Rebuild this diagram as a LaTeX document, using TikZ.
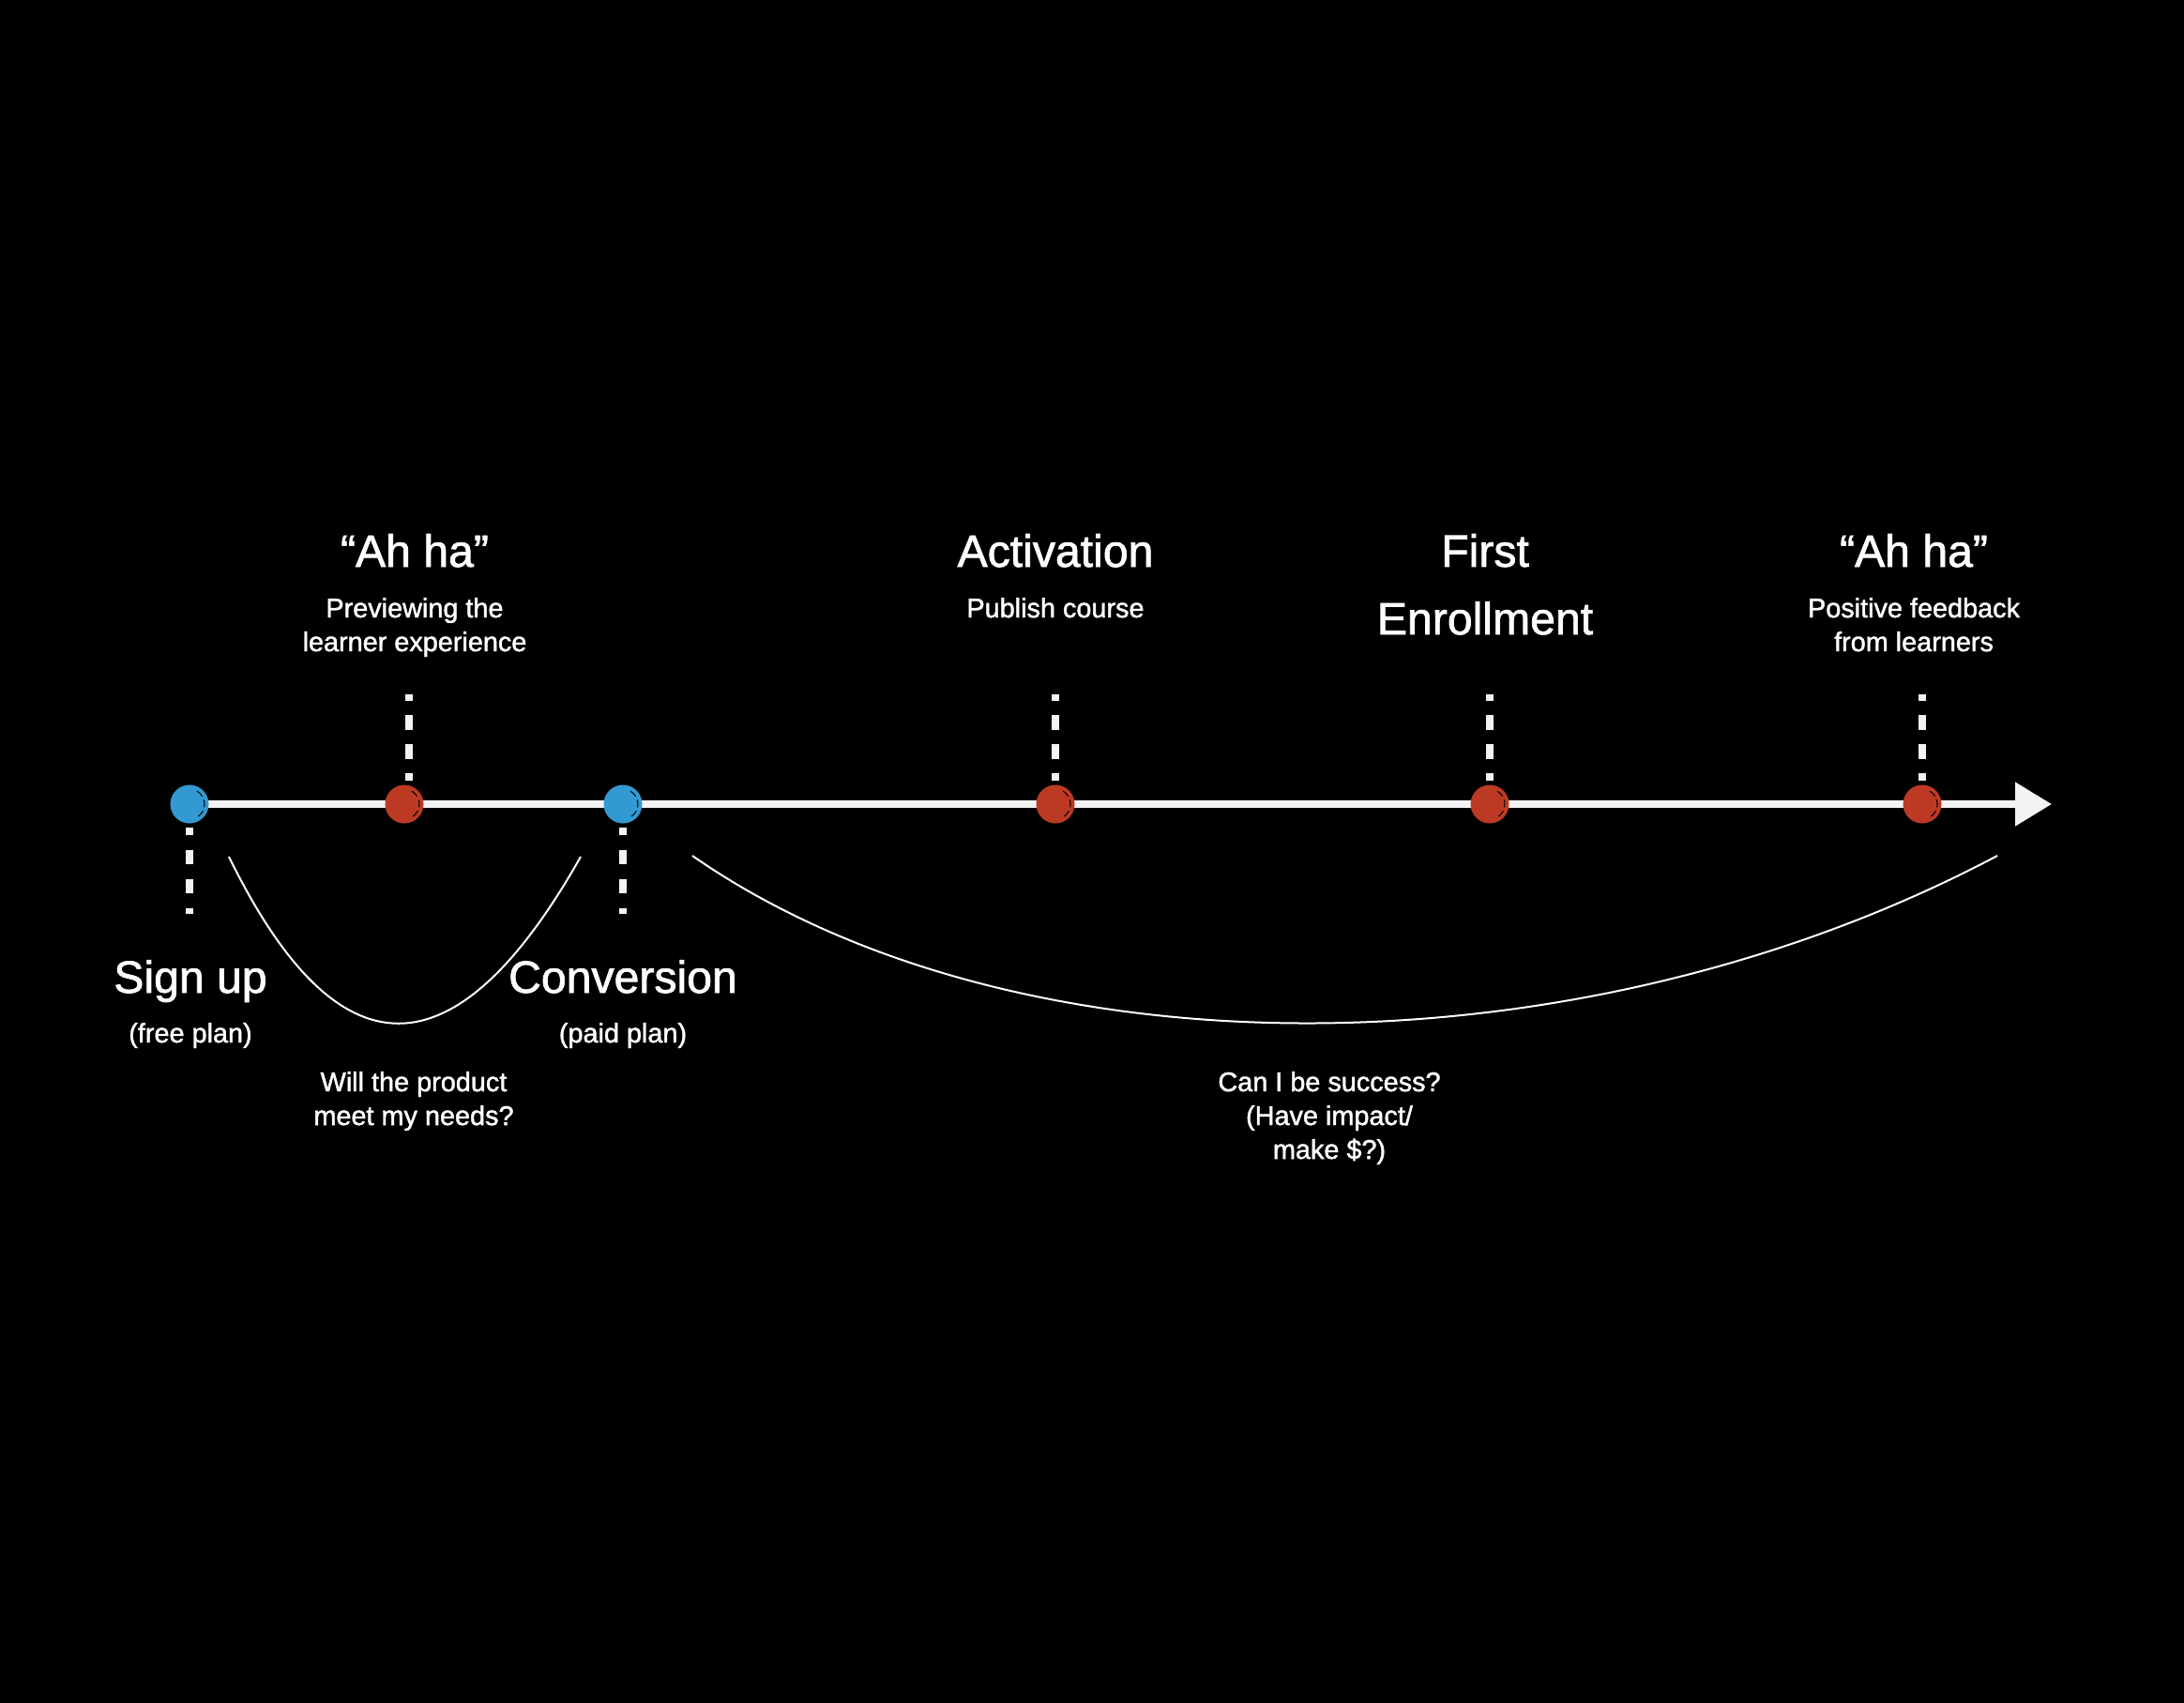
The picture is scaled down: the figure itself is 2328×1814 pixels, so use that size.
\documentclass[tikz,border=0pt]{standalone}
\usepackage{fontspec}
\setmainfont{Liberation Sans}
\newfontfamily\labelfont{Liberation Sans}[FakeBold=1.5]
\usetikzlibrary{arrows.meta,backgrounds}
\definecolor{dotblue}{HTML}{3399D2}
\definecolor{dotred}{HTML}{BC3A24}
\definecolor{linewhite}{HTML}{F3F3F3}
\begin{document}
\begin{tikzpicture}[
  x=0.01cm, y=-0.01cm,
  dot/.style={circle, minimum size=0.41cm, inner sep=0pt},
  bluedot/.style={dot, fill=dotblue},
  reddot/.style={dot, fill=dotred},
  milestone/.style={text=white, inner sep=0pt, anchor=base, align=center,
    font=\labelfont\fontsize{13.7pt}{20.5pt}\selectfont},
  note/.style={text=white, inner sep=0pt, anchor=base, align=center,
    font=\labelfont\fontsize{8.2pt}{10.24pt}\selectfont},
  tick/.style={draw=linewhite, line width=0.08cm, dash pattern=on 0.155cm off 0.155cm,
    dash phase=0.0775cm, shorten <=0.04cm},
  axis/.style={draw=linewhite, line width=0.08cm, -{Triangle[length=0.39cm, width=0.45cm]}},
  curve/.style={draw=white, line width=0.02cm},
  sketch/.style={draw=black, line width=0.01cm, dash pattern=on 0.08cm off 0.04cm}
]
\useasboundingbox (0,0) rectangle (2328,1814);
\begin{scope}[on background layer]
  \fill[black] (-20,-20) rectangle (2348,1834);
\end{scope}

\node[bluedot] (signup) at (202,857) {};
\node[reddot] (ahaA) at (431,857) {};
\node[bluedot] (conv) at (664,857) {};
\node[reddot] (activ) at (1125,857) {};
\node[reddot] (enroll) at (1588,857) {};
\node[reddot] (ahaB) at (2049,857) {};
\coordinate (tip) at (2187,857);

\begin{scope}[on background layer]
  \draw[axis] (signup.center) -- (tip);
\end{scope}

\draw[tick] ([xshift=0.05cm]ahaA.north) -- ++(0,-96);
\draw[tick] (activ.north) -- ++(0,-96);
\draw[tick] (enroll.north) -- ++(0,-96);
\draw[tick] (ahaB.north) -- ++(0,-96);
\draw[tick] (signup.south) -- ++(0,96);
\draw[tick] (conv.south) -- ++(0,96);

\foreach \n in {signup,ahaA,conv,activ,enroll,ahaB}
  \draw[sketch] (\n.center) ++(-60:16) arc[start angle=-60, end angle=55, radius=16];

\node[milestone] (ahaAtitle) at (442,604) {“Ah ha”};
\node[note] (ahaAnote) at (442,694) {Previewing the\\learner experience};
\node[milestone] (activtitle) at (1125,604) {Activation};
\node[note] (activnote) at (1125,658) {Publish course};
\node[milestone] (enrolltitle) at (1583,676) {First\\Enrollment};
\node[milestone] (ahaBtitle) at (2040,604) {“Ah ha”};
\node[note] (ahaBnote) at (2040,694) {Positive feedback\\from learners};
\node[milestone] (signuptitle) at (203,1058) {Sign up};
\node[note] (signupnote) at (203,1111) {(free plan)};
\node[milestone] (convtitle) at (664,1058) {Conversion};
\node[note] (convnote) at (664,1111) {(paid plan)};
\node[note] (trialq) at (441,1199) {Will the product\\meet my needs?};
\node[note] (successq) at (1417,1235) {Can I be success?\\(Have impact/\\make \$?)};

\coordinate (trialstart) at (244,913);
\coordinate (trialend) at (619,913);
\coordinate (paidstart) at (738,912);
\coordinate (paidend) at (2129,912);
\draw[curve] (trialstart) .. controls (360,1150) and (485,1150) .. (trialend);
\draw[curve] (paidstart) .. controls (1080,1150) and (1680,1150) .. (paidend);
\end{tikzpicture}
\end{document}
